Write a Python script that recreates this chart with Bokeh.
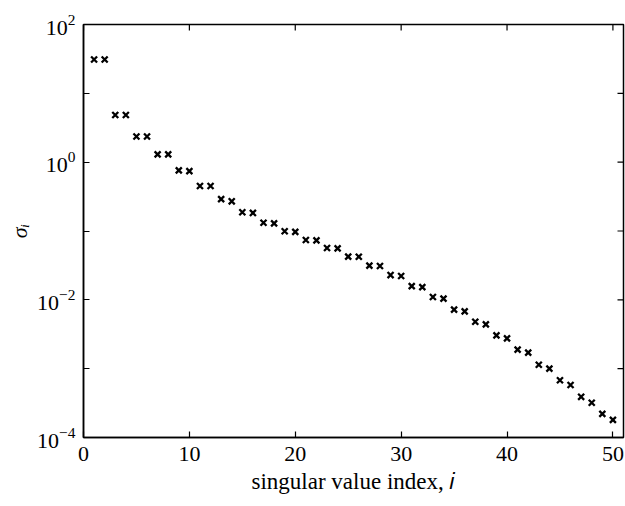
import math
from bokeh.plotting import figure
from bokeh.models import (ColumnDataSource, FixedTicker, LogTickFormatter,
                          LinearAxis, LogAxis, Range1d)
from bokeh.embed import file_html
from bokeh.resources import INLINE

# singular values sigma_i for i = 1..50
index = list(range(1, 51))
sigma = [
    31.0, 31.0, 4.85, 4.85, 2.36, 2.36, 1.30, 1.30, 0.76, 0.74,
    0.45, 0.45, 0.29, 0.27, 0.187, 0.183, 0.132, 0.129, 0.099, 0.097,
    0.074, 0.073, 0.0566, 0.056, 0.0425, 0.0423, 0.0314, 0.031, 0.0229, 0.0222,
    0.0158, 0.0153, 0.011, 0.0104, 0.0072, 0.0068, 0.0048, 0.0044, 0.00305, 0.00275,
    0.00189, 0.00171, 0.00114, 0.00100, 0.00068, 0.00058, 0.00039, 0.00032, 0.00022, 0.00018,
]

x_ticks = [0, 10, 20, 30, 40, 50]
y_major = [1e-4, 1e-2, 1e0, 1e2]
y_minor = [1e-3, 1e-1, 1e1]

X_MIN, X_MAX = 0, 51
Y_MIN, Y_MAX = 1e-4, 1e2

FONT = "Liberation Serif"

src = ColumnDataSource(dict(i=index, s=sigma))

p = figure(width=625, height=506, y_axis_type="log",
           x_range=Range1d(X_MIN, X_MAX), y_range=Range1d(Y_MIN, Y_MAX),
           output_backend="svg", toolbar_location=None,
           min_border_left=83, min_border_right=2,
           min_border_top=24, min_border_bottom=69,
           x_axis_location=None, y_axis_location=None)

p.grid.visible = False
p.outline_line_color = "black"
p.outline_line_width = 1.5
p.background_fill_color = "white"
p.border_fill_color = "white"

p.scatter("i", "s", source=src, marker="x", size=8.5, line_width=2.3,
          color="black")

# mirrored inward ticks on the top and right edges (half of each dash is
# clipped by the frame, leaving a 6px tick inside)
all_y_ticks = sorted(y_major + y_minor)
p.scatter(x=[X_MAX] * len(all_y_ticks), y=all_y_ticks, marker="dash",
          size=12, line_width=1.2, color="black")
p.scatter(x=x_ticks, y=[Y_MAX] * len(x_ticks), marker="dash",
          angle=math.pi / 2, size=12, line_width=1.2, color="black")

# bottom axis
xb = LinearAxis(axis_label="singular value index, 𝑖")
xb.ticker = FixedTicker(ticks=x_ticks)
xb.major_tick_in = 6
xb.major_tick_out = 0
xb.minor_tick_in = 0
xb.minor_tick_out = 0
xb.axis_line_color = "black"
xb.axis_line_width = 1.5
xb.major_tick_line_width = 1.2
xb.major_label_text_font = FONT
xb.major_label_text_font_size = "22px"
xb.major_label_text_color = "black"
xb.major_label_standoff = 9
xb.axis_label_text_font = FONT
xb.axis_label_text_font_style = "normal"
xb.axis_label_text_font_size = "23px"
xb.axis_label_text_color = "black"
xb.axis_label_standoff = 5
p.add_layout(xb, "below")

# left (log) axis
yl = LogAxis(axis_label="σᵢ")
yl.ticker = FixedTicker(ticks=y_major, minor_ticks=y_minor)
yl.formatter = LogTickFormatter()
yl.major_tick_in = 6
yl.major_tick_out = 0
yl.minor_tick_in = 6
yl.minor_tick_out = 0
yl.axis_line_color = "black"
yl.axis_line_width = 1.5
yl.major_tick_line_width = 1.2
yl.minor_tick_line_width = 1.2
yl.major_label_text_font = FONT
yl.major_label_text_font_size = "22px"
yl.major_label_text_color = "black"
yl.major_label_standoff = 8
yl.axis_label_text_font = FONT
yl.axis_label_text_font_style = "italic"
yl.axis_label_text_font_size = "22px"
yl.axis_label_text_color = "black"
yl.axis_label_standoff = 2
p.add_layout(yl, "left")

open("out.html", "w").write(file_html(p, INLINE))
